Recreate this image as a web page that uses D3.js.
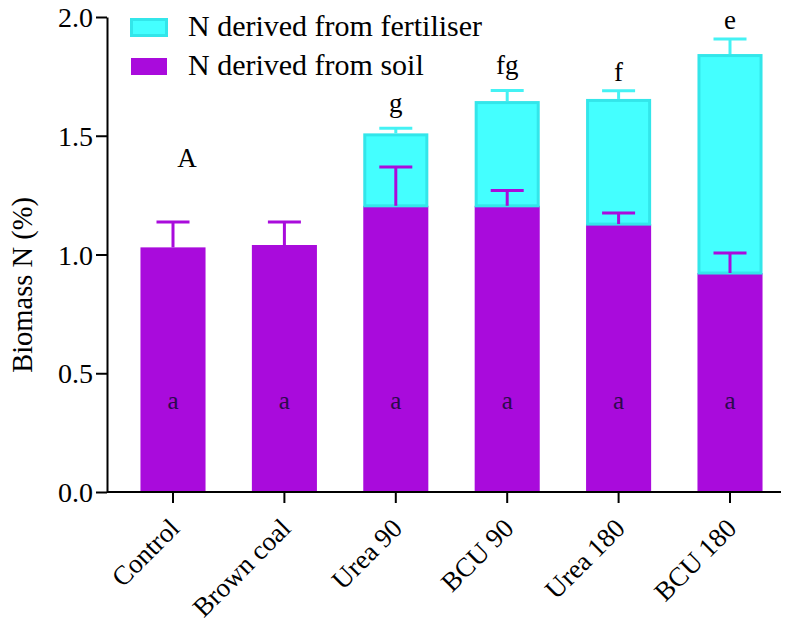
<!DOCTYPE html>
<html>
<head>
<meta charset="utf-8">
<script src="https://cdn.jsdelivr.net/npm/d3@7"></script>
</head>
<body style="margin:0">
<script>
// values
var categories = ["Control", "Brown coal", "Urea 90", "BCU 90", "Urea 180", "BCU 180"];
var soilN = [1.03, 1.04, 1.205, 1.205, 1.128, 0.922];
var soilErr = [0.107, 0.097, 0.163, 0.065, 0.047, 0.084];
var fertN = [0, 0, 0.305, 0.441, 0.527, 0.922];
var fertErr = [0, 0, 0.022, 0.045, 0.035, 0.063];
var topLetters = ["", "", "g", "fg", "f", "e"];
var soilLetters = ["a", "a", "a", "a", "a", "a"];
var yTicks = [0, 0.5, 1.0, 1.5, 2.0];
var seriesNames = ["N derived from fertiliser", "N derived from soil"];

var width = 794, height = 630;
var serif = "Liberation Serif";
var purple = "#a90bdc", cyan = "#44ffff", cyanEdge = "#33e6ea";

var svg = d3.select("body").append("svg")
    .attr("width", width)
    .attr("height", height)
    .attr("font-family", serif);

var y = d3.scaleLinear().domain([0, 2]).range([492, 17]);
var x = d3.scaleBand().domain(categories)
    .range([117.3, 785.7])
    .paddingInner(0.416)
    .paddingOuter(0.208);

var bw = x.bandwidth();
var capW = 33;

// soil bars
svg.append("g").selectAll("rect")
    .data(categories)
    .enter().append("rect")
    .attr("x", function(d) { return x(d); })
    .attr("width", bw)
    .attr("y", function(d, i) { return y(soilN[i]); })
    .attr("height", function(d, i) { return y(0) - y(soilN[i]); })
    .attr("fill", purple);

// fertiliser bars stacked on top
var fertIdx = d3.range(categories.length).filter(function(i) { return fertN[i] > 0; });
svg.append("g").selectAll("rect")
    .data(fertIdx)
    .enter().append("rect")
    .attr("x", function(i) { return x(categories[i]) + 1.5; })
    .attr("width", bw - 3)
    .attr("y", function(i) { return y(soilN[i] + fertN[i]) + 1.5; })
    .attr("height", function(i) { return y(soilN[i]) - y(soilN[i] + fertN[i]) - 1.5; })
    .attr("fill", cyan)
    .attr("stroke", cyanEdge)
    .attr("stroke-width", 3);

// error bars
function errorBar(g, cx, base, top, color) {
    g.append("line")
        .attr("x1", cx).attr("x2", cx)
        .attr("y1", y(base)).attr("y2", y(top))
        .attr("stroke", color).attr("stroke-width", 3);
    g.append("line")
        .attr("x1", cx - capW / 2).attr("x2", cx + capW / 2)
        .attr("y1", y(top)).attr("y2", y(top))
        .attr("stroke", color).attr("stroke-width", 3);
}

var errG = svg.append("g");
categories.forEach(function(c, i) {
    var cx = x(c) + bw / 2;
    errorBar(errG, cx, soilN[i], soilN[i] + soilErr[i], purple);
    if (fertN[i] > 0) {
        var tot = soilN[i] + fertN[i];
        errorBar(errG, cx, tot, tot + fertErr[i], "#44f2f4");
    }
});

// letters above bars
svg.append("g").selectAll("text")
    .data(fertIdx)
    .enter().append("text")
    .attr("x", function(i) { return x(categories[i]) + bw / 2; })
    .attr("y", function(i) {
        var t = y(soilN[i] + fertN[i] + fertErr[i]) - 10;
        return /[gpqy]/.test(topLetters[i]) ? t - 6 : t;
    })
    .attr("text-anchor", "middle")
    .attr("font-family", serif)
    .attr("font-size", 27)
    .text(function(i) { return topLetters[i]; });

// letters inside soil bars
svg.append("g").selectAll("text")
    .data(categories)
    .enter().append("text")
    .attr("x", function(d) { return x(d) + bw / 2; })
    .attr("y", y(0.35))
    .attr("text-anchor", "middle")
    .attr("font-family", serif)
    .attr("font-size", 25)
    .attr("fill", "#2c0a4c")
    .text(function(d, i) { return soilLetters[i]; });

// panel letter
svg.append("text")
    .attr("x", x(categories[0]) + bw / 2 + 14)
    .attr("y", y(1.37))
    .attr("text-anchor", "middle")
    .attr("font-family", serif)
    .attr("font-size", 27)
    .text("A");

// y axis
var yAxis = svg.append("g")
    .attr("transform", "translate(107,0)")
    .call(d3.axisLeft(y).tickValues(yTicks).tickFormat(d3.format(".1f"))
        .tickSize(11).tickSizeOuter(0).tickPadding(3))
    .attr("font-family", serif)
    .attr("font-size", 28);
yAxis.select(".domain").attr("stroke-width", 2);
yAxis.selectAll(".tick line").attr("stroke-width", 2);
yAxis.selectAll("text").attr("dy", "0.34em");

// x axis
var xAxis = svg.append("g")
    .attr("transform", "translate(0,492)")
    .call(d3.axisBottom(x).tickSize(11).tickSizeOuter(0).tickFormat(""));
xAxis.select(".domain").attr("d", "M107,0H781").attr("stroke-width", 2);
xAxis.selectAll(".tick line").attr("stroke-width", 2);

svg.append("g").selectAll("text")
    .data(categories)
    .enter().append("text")
    .attr("transform", function(d) {
        return "translate(" + (x(d) + bw / 2 + 8) + ",530) rotate(-45)";
    })
    .attr("text-anchor", "end")
    .attr("font-family", serif)
    .attr("font-size", 27)
    .text(function(d) { return d; });

// y title
svg.append("text")
    .attr("transform", "translate(32,285) rotate(-90)")
    .attr("text-anchor", "middle")
    .attr("font-family", serif)
    .attr("font-size", 28.5)
    .text("Biomass N (%)");

// legend
var legend = svg.append("g");
var swatchColors = [cyan, purple];
seriesNames.forEach(function(name, i) {
    var ly = 19 + i * 39;
    legend.append("rect")
        .attr("x", 131.5).attr("y", ly + 0.5)
        .attr("width", 35).attr("height", 16)
        .attr("fill", swatchColors[i])
        .attr("stroke", i === 0 ? cyanEdge : purple)
        .attr("stroke-width", i === 0 ? 3 : 1);
    legend.append("text")
        .attr("x", 188).attr("y", ly + 17)
        .attr("font-family", serif)
        .attr("font-size", 30)
        .text(name);
});
</script>
</body>
</html>
